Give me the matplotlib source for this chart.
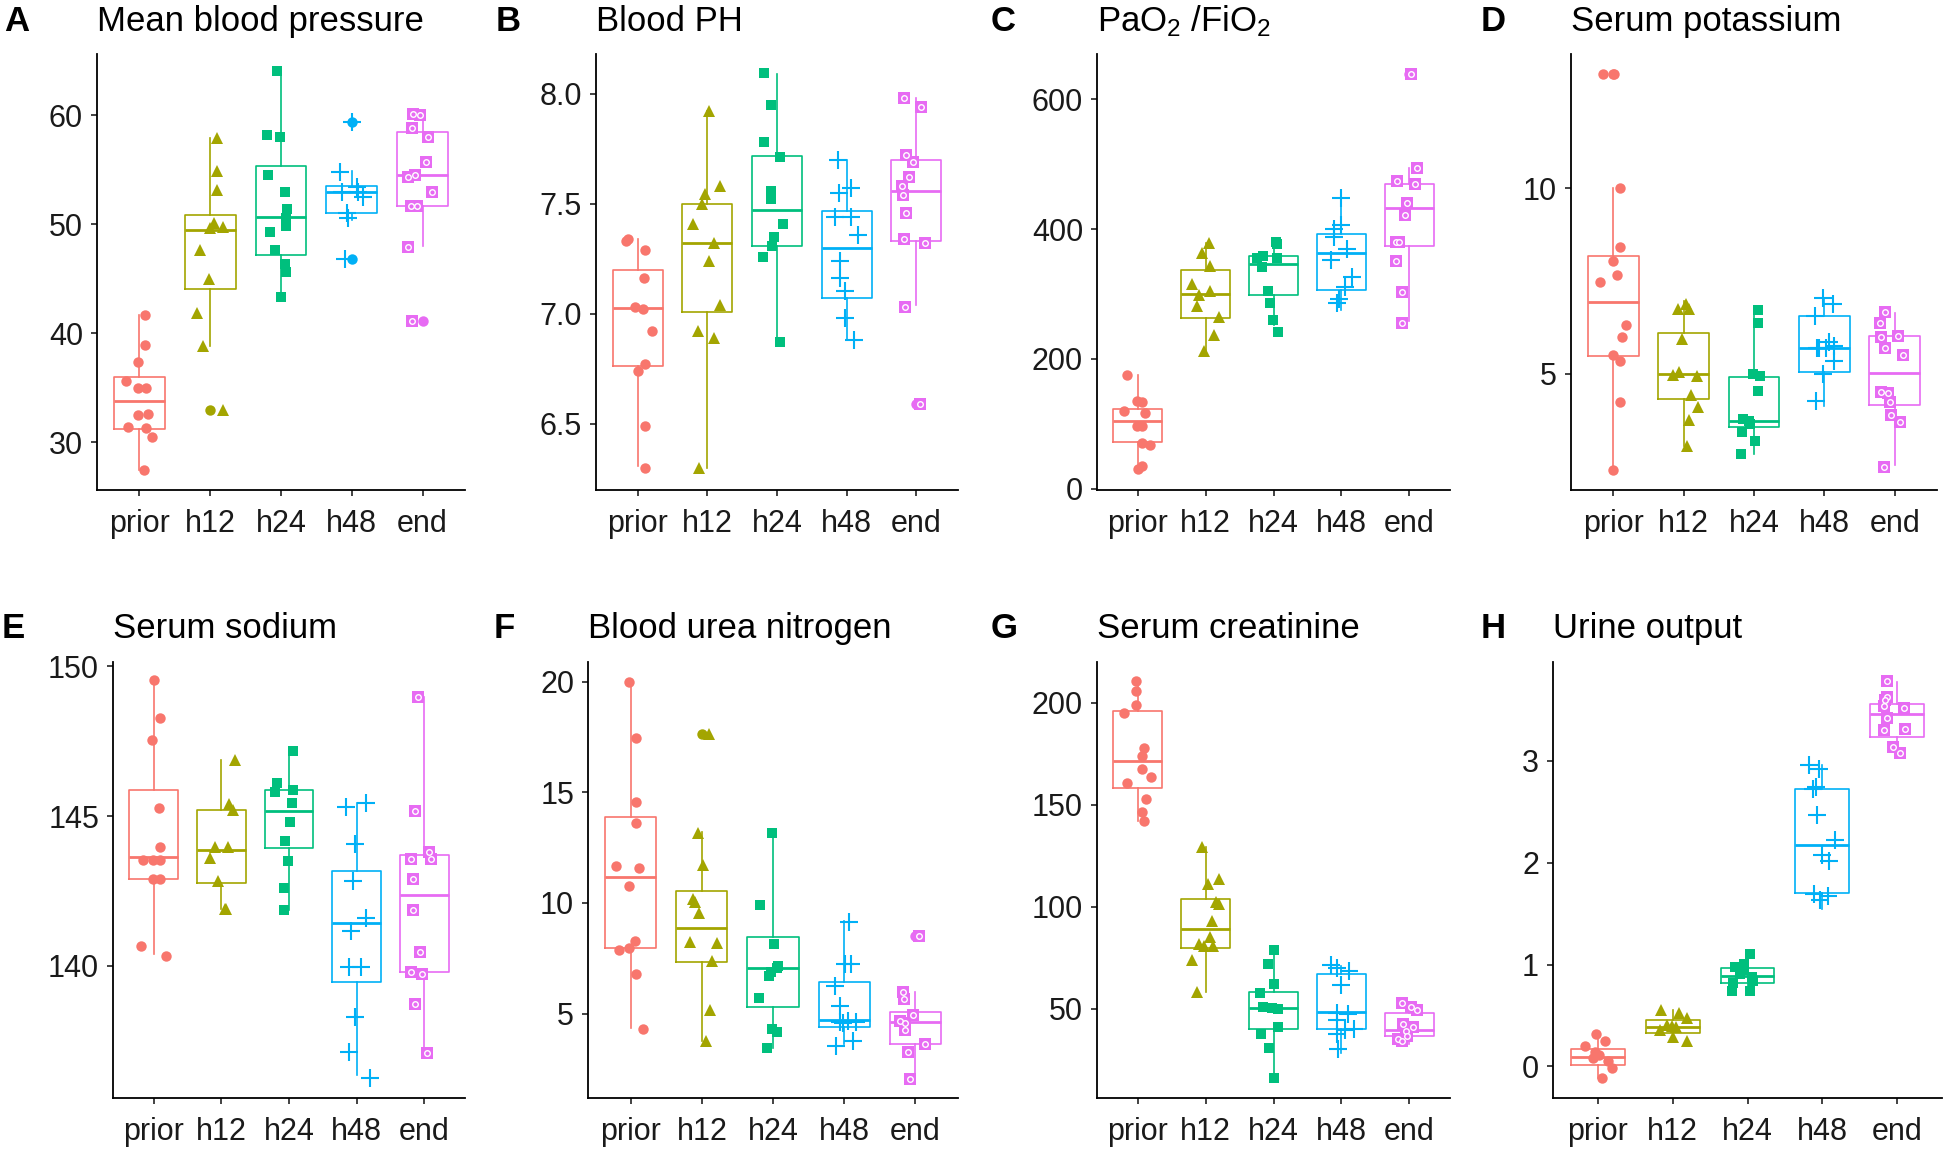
import numpy as np
import matplotlib.pyplot as plt

plt.rcParams['font.family'] = ['Liberation Sans', 'DejaVu Sans']
plt.rcParams['mathtext.fontset'] = 'custom'
plt.rcParams['mathtext.rm'] = 'Liberation Sans'
plt.rcParams['mathtext.it'] = 'Liberation Sans'

groups = ['prior', 'h12', 'h24', 'h48', 'end']
colors = ['#F8766D', '#A3A500', '#00BF7D', '#00B0F6', '#E76BF3']

# A - mean blood pressure
a_y = [[41.7, 38.9, 37.3, 35.6, 35.0, 35.0, 32.5, 32.6, 31.4, 31.3, 30.5, 27.4],
       [57.9, 54.9, 53.1, 50.1, 49.6, 49.7, 47.6, 45.0, 41.8, 38.8, 32.9],
       [64.0, 58.2, 58.0, 54.5, 52.9, 51.4, 50.6, 49.8, 49.3, 47.6, 46.3, 45.6, 43.3],
       [59.4, 54.8, 53.4, 52.9, 52.5, 52.9, 51.0, 50.6, 46.8],
       [60.1, 60.0, 58.8, 58.0, 55.7, 54.3, 54.5, 52.9, 51.7, 51.7, 47.9, 41.1]]
a_dx = [[0.08, 0.08, -0.02, -0.19, -0.02, 0.09, -0.02, 0.12, -0.16, 0.09, 0.18, 0.06],
        [0.1, 0.1, 0.1, 0.05, 0.0, 0.18, -0.14, -0.02, -0.18, -0.1, 0.18],
        [-0.05, -0.2, -0.01, -0.19, 0.05, 0.09, 0.07, 0.07, -0.16, -0.08, 0.05, 0.07, 0.0],
        [0.0, -0.16, 0.07, 0.09, 0.16, -0.14, -0.07, -0.05, -0.09],
        [-0.13, -0.04, -0.15, 0.08, 0.05, -0.2, -0.1, 0.13, -0.17, -0.08, -0.2, -0.15]]
a_box = [(27.4, 31.2, 33.8, 36.0, 41.7), (38.8, 44.05, 49.45, 50.8, 57.9),
         (43.3, 47.2, 50.65, 55.3, 64.0), (50.4, 51.0, 52.95, 53.5, 54.9),
         (48.0, 51.7, 54.5, 58.4, 60.1)]
a_out = [[], [32.9], [], [59.4, 46.8], [41.1]]

# B - blood pH
b_y = [[7.33, 7.34, 7.29, 7.165, 7.03, 7.02, 6.92, 6.77, 6.74, 6.49, 6.30],
       [7.92, 7.58, 7.545, 7.50, 7.41, 7.32, 7.24, 7.04, 6.92, 6.89, 6.30],
       [8.095, 7.95, 7.78, 7.71, 7.56, 7.52, 7.41, 7.35, 7.31, 7.26, 6.87],
       [7.70, 7.55, 7.57, 7.44, 7.44, 7.36, 7.24, 7.165, 7.105, 6.98, 6.88],
       [7.98, 7.94, 7.72, 7.69, 7.62, 7.58, 7.54, 7.46, 7.34, 7.32, 7.03, 6.59]]
b_dx = [[-0.17, -0.14, 0.1, 0.09, -0.04, 0.07, 0.2, 0.1, 0.0, 0.1, 0.1],
        [0.02, 0.18, -0.03, -0.08, -0.21, 0.1, 0.02, 0.18, -0.13, 0.1, -0.12],
        [-0.19, -0.08, -0.18, 0.05, -0.09, -0.09, 0.08, -0.04, -0.07, -0.2, 0.05],
        [-0.13, -0.11, 0.06, -0.16, 0.06, 0.16, -0.1, -0.1, -0.03, -0.02, 0.11],
        [-0.17, 0.07, -0.14, -0.04, -0.1, -0.2, -0.19, -0.14, -0.17, 0.12, -0.16, 0.05]]
b_box = [(6.31, 6.765, 7.025, 7.20, 7.34), (6.30, 7.01, 7.32, 7.50, 7.92),
         (6.87, 7.31, 7.47, 7.715, 8.09), (6.88, 7.07, 7.30, 7.465, 7.70),
         (7.04, 7.33, 7.56, 7.70, 7.98)]
b_out = [[], [], [], [], [6.59]]

# C - PaO2/FiO2
c_y = [[175, 135, 133, 120, 116, 97, 97, 70, 68, 31, 35],
       [378, 363, 344, 316, 305, 298, 282, 265, 237, 212],
       [380, 377, 358, 355, 341, 355, 304, 286, 260, 242],
       [448, 406, 401, 388, 370, 353, 326, 311, 292, 286],
       [639, 494, 475, 469, 441, 422, 381, 381, 351, 303, 256]]
c_dx = [[-0.16, -0.01, 0.06, -0.2, 0.11, -0.01, 0.07, 0.06, 0.18, 0.0, 0.07],
        [0.05, -0.05, 0.07, -0.2, 0.07, -0.1, -0.12, 0.2, 0.12, -0.02],
        [0.03, 0.05, -0.15, -0.25, -0.17, 0.05, -0.08, -0.05, -0.01, 0.07],
        [0.0, -0.01, -0.11, -0.11, 0.09, -0.16, 0.15, 0.06, -0.03, -0.06],
        [0.03, 0.11, -0.18, 0.08, -0.04, -0.07, -0.2, -0.15, -0.2, -0.1, -0.11]]
c_box = [(30, 72, 104, 123, 175), (212, 263, 300, 337, 378), (252, 298, 347, 359, 381),
         (275, 307, 364, 392, 453), (259, 374, 433, 470, 494)]
c_out = [[], [], [], [], [639]]

# D - serum potassium
d_y = [[13.07, 13.07, 10.0, 8.42, 8.03, 7.65, 7.48, 6.31, 5.99, 5.51, 5.35, 4.24, 2.41],
       [6.87, 6.73, 6.73, 5.94, 5.03, 4.95, 4.93, 4.42, 4.09, 3.75, 3.06],
       [6.71, 6.37, 4.93, 4.98, 4.52, 3.78, 3.73, 3.64, 3.43, 3.19, 2.84],
       [7.04, 6.88, 6.56, 5.70, 5.70, 5.75, 5.34, 5.0, 4.26, 5.68, 5.85],
       [6.66, 6.37, 5.99, 6.02, 5.70, 5.49, 4.50, 4.47, 4.24, 3.88, 3.69, 2.49]]
d_dx = [[-0.15, 0.01, 0.1, 0.09, -0.01, 0.06, -0.19, 0.18, 0.13, 0.0, 0.1, 0.1, -0.01],
        [0.04, -0.08, 0.07, -0.02, -0.06, -0.15, 0.19, 0.11, 0.2, 0.08, 0.05],
        [0.05, 0.06, 0.09, -0.01, 0.06, -0.16, -0.07, -0.06, -0.17, 0.02, -0.19],
        [-0.02, 0.12, -0.13, -0.11, 0.03, 0.14, 0.14, -0.02, -0.12, -0.07, 0.07],
        [-0.14, -0.21, -0.2, 0.05, -0.14, 0.12, -0.2, -0.1, -0.07, -0.06, 0.07, -0.15]]
d_box = [(2.41, 5.48, 6.92, 8.17, 10.0), (3.06, 4.31, 4.98, 6.10, 6.95),
         (2.82, 3.57, 3.73, 4.90, 6.8), (4.12, 5.05, 5.70, 6.54, 7.0),
         (2.53, 4.15, 5.01, 6.01, 6.63)]
d_out = [[13.07], [], [], [], []]

# E - serum sodium
e_y = [[149.54, 148.27, 147.55, 145.26, 143.95, 143.54, 143.54, 143.54, 142.9, 142.9, 140.64, 140.32],
       [146.88, 145.4, 145.2, 143.98, 143.98, 143.6, 142.83, 141.9, 141.9],
       [147.18, 146.1, 145.8, 145.87, 145.44, 144.8, 144.17, 143.5, 142.6, 141.86],
       [145.3, 145.44, 144.07, 142.83, 141.6, 141.15, 139.94, 139.94, 138.27, 137.12, 136.23],
       [148.97, 145.16, 143.56, 143.8, 143.56, 142.89, 141.86, 140.46, 139.8, 139.73, 138.72, 137.06]]
e_dx = [[0.0, 0.1, -0.02, 0.08, 0.1, -0.16, -0.01, 0.1, -0.01, 0.1, -0.18, 0.19],
        [0.2, 0.11, 0.17, -0.1, 0.1, -0.17, -0.05, 0.07, 0.05],
        [0.06, -0.17, -0.2, 0.06, 0.05, 0.02, -0.06, -0.01, -0.07, -0.07],
        [-0.16, 0.14, -0.03, -0.06, 0.14, -0.08, -0.11, 0.06, -0.03, -0.11, 0.19],
        [-0.1, -0.14, -0.2, 0.07, 0.1, -0.17, -0.17, -0.07, -0.2, -0.04, -0.14, 0.04]]
e_box = [(140.4, 142.89, 143.64, 145.87, 149.54), (141.9, 142.77, 143.86, 145.2, 146.88),
         (141.86, 143.92, 145.18, 145.87, 147.18), (136.33, 139.45, 141.43, 143.16, 145.44),
         (137.06, 139.79, 142.37, 143.68, 148.97)]
e_out = [[], [], [], [], []]

# F - blood urea nitrogen
f_y = [[20.0, 17.46, 14.59, 13.64, 11.67, 11.59, 10.79, 8.28, 7.98, 7.87, 6.8, 4.3],
       [17.66, 13.15, 11.72, 10.2, 10.03, 9.54, 8.23, 8.2, 7.38, 5.16, 3.77],
       [13.15, 9.92, 8.15, 7.08, 6.89, 7.13, 6.72, 5.69, 4.31, 4.15, 3.44],
       [9.15, 7.26, 7.26, 6.23, 5.33, 4.6, 4.57, 4.63, 4.66, 3.52, 3.74],
       [8.52, 5.98, 5.66, 4.92, 4.67, 4.59, 4.26, 3.64, 3.28, 2.05]]
f_dx = [[-0.02, 0.08, 0.08, 0.08, -0.2, 0.12, -0.02, 0.06, -0.02, -0.16, 0.08, 0.17],
        [0.1, -0.06, 0.01, -0.13, -0.1, -0.04, -0.16, 0.21, 0.14, 0.11, 0.06],
        [-0.02, -0.18, 0.02, 0.05, -0.03, 0.07, -0.06, -0.2, -0.02, 0.06, -0.08],
        [0.07, 0.01, 0.1, -0.13, -0.06, -0.06, -0.01, 0.16, 0.05, -0.11, 0.13],
        [0.05, -0.17, -0.16, -0.03, -0.22, -0.15, -0.14, 0.13, -0.1, -0.07]]
f_box = [(4.35, 7.95, 11.18, 13.9, 20.0), (3.77, 7.33, 8.89, 10.52, 13.2),
         (3.44, 5.28, 7.05, 8.44, 13.1), (3.6, 4.39, 4.7, 6.44, 9.18),
         (2.05, 3.61, 4.64, 5.08, 5.98)]
f_out = [[], [17.66], [], [], [8.52]]

# G - serum creatinine
g_y = [[210.7, 205.9, 198.8, 194.8, 177.8, 173.9, 167.7, 163.6, 160.5, 152.9, 146.7, 142.2],
       [129.4, 113.5, 111.1, 102.4, 101.4, 93.0, 85.0, 82.0, 81.0, 80.6, 73.8, 58.4],
       [78.8, 72.2, 62.3, 57.8, 50.7, 50.4, 50.0, 37.9, 40.9, 30.8, 16.2],
       [71.3, 69.9, 68.5, 61.9, 48.2, 47.7, 44.5, 37.9, 39.7, 40.2, 30.5],
       [53.0, 50.7, 49.5, 42.4, 41.1, 39.2, 35.3, 34.0, 36.5]]
g_dx = [[-0.02, -0.02, -0.02, -0.2, 0.09, 0.07, 0.06, 0.19, -0.16, 0.12, 0.07, 0.09],
        [-0.06, 0.2, 0.03, 0.15, 0.2, 0.09, 0.06, -0.1, -0.02, 0.11, -0.2, -0.12],
        [0.01, -0.08, 0.01, -0.2, -0.16, -0.02, 0.06, -0.18, 0.06, -0.06, 0.0],
        [-0.15, -0.06, 0.11, -0.01, -0.06, 0.1, -0.07, -0.06, 0.05, 0.19, -0.05],
        [-0.11, 0.02, 0.11, -0.09, 0.06, -0.05, -0.16, -0.11, -0.03]]
g_box = [(142.2, 158.4, 171.7, 196.1, 210.7), (58.4, 79.7, 89.1, 103.7, 129.4),
         (16.2, 40.2, 50.4, 58.4, 78.8), (28.2, 40.2, 48.6, 67.3, 70.8),
         (32.9, 36.5, 39.7, 48.0, 53.0)]
g_out = [[], [], [], [], []]

# H - urine output
h_y = [[0.32, 0.20, 0.25, 0.14, 0.11, 0.05, -0.02, -0.11, 0.08],
       [0.55, 0.52, 0.48, 0.41, 0.385, 0.356, 0.29, 0.25, 0.40],
       [1.10, 1.01, 0.98, 0.91, 0.88, 0.82, 0.84, 0.74, 0.74, 0.95],
       [2.96, 2.92, 2.74, 2.72, 2.47, 2.22, 2.02, 2.08, 1.69, 1.67, 1.63],
       [3.78, 3.63, 3.54, 3.52, 3.42, 3.30, 3.31, 3.14, 3.08, 3.60]]
h_dx = [[-0.03, -0.17, 0.1, -0.04, 0.02, 0.13, 0.19, 0.06, -0.07],
        [-0.15, 0.09, 0.19, -0.08, 0.05, -0.17, 0.01, 0.19, -0.01],
        [0.04, -0.05, -0.17, -0.1, 0.06, -0.19, 0.08, -0.21, 0.04, -0.05],
        [-0.18, -0.04, -0.09, -0.13, -0.07, 0.17, 0.09, -0.01, -0.11, 0.07, -0.03],
        [-0.14, -0.14, -0.18, 0.09, -0.14, -0.18, 0.11, -0.05, 0.04, -0.16]]
h_box = [(-0.11, 0.018, 0.09, 0.17, 0.32), (0.25, 0.33, 0.385, 0.456, 0.55),
         (0.74, 0.82, 0.89, 0.97, 1.10), (1.55, 1.70, 2.17, 2.72, 2.96),
         (3.10, 3.23, 3.46, 3.56, 3.77)]
h_out = [[], [], [], [], []]

W, H = 1946, 1149
fig = plt.figure(figsize=(W / 100, H / 100), dpi=100)

# letter, title, data, y ticks, y limits, axes pixel box (left, right, top, bottom), letter x
panels = [
    ('A', 'Mean blood pressure', a_y, a_dx, a_box, a_out, [30, 40, 50, 60], (25.6, 65.6), (97, 465, 54, 490), 4),
    ('B', 'Blood PH', b_y, b_dx, b_box, b_out, [6.5, 7.0, 7.5, 8.0], (6.20, 8.18), (596, 958, 54, 490), 496),
    ('C', 'PaO$_2$ /FiO$_2$', c_y, c_dx, c_box, c_out, [0, 200, 400, 600], (-2, 670), (1097, 1450, 54, 490), 991),
    ('D', 'Serum potassium', d_y, d_dx, d_box, d_out, [5, 10], (1.86, 13.62), (1571, 1937, 54, 490), 1481),
    ('E', 'Serum sodium', e_y, e_dx, e_box, e_out, [140, 145, 150], (135.57, 150.15), (113, 465, 662, 1098), 2),
    ('F', 'Blood urea nitrogen', f_y, f_dx, f_box, f_out, [5, 10, 15, 20], (1.18, 20.9), (588, 958, 662, 1098), 494),
    ('G', 'Serum creatinine', g_y, g_dx, g_box, g_out, [50, 100, 150, 200], (6.3, 220), (1097, 1450, 662, 1098), 991),
    ('H', 'Urine output', h_y, h_dx, h_box, h_out, [0, 1, 2, 3], (-0.31, 3.97), (1553, 1942, 662, 1098), 1481),
]

for letter, title, ys, dxs, box, out, yt, ylim, (l, r, t, b), lx in panels:
    ax = fig.add_axes([l / W, 1 - b / H, (r - l) / W, (b - t) / H])
    stats = [dict(whislo=s[0], q1=s[1], med=s[2], q3=s[3], whishi=s[4], fliers=o)
             for s, o in zip(box, out)]
    bp = ax.bxp(stats, positions=range(1, 6), widths=0.72, showcaps=False,
                boxprops=dict(linewidth=1.2), whiskerprops=dict(linewidth=1.2),
                medianprops=dict(linewidth=2.0),
                flierprops=dict(marker='o', markersize=7.5, markeredgewidth=0))
    for i, c in enumerate(colors):
        bp['boxes'][i].set_color(c)
        bp['medians'][i].set_color(c)
        bp['whiskers'][2 * i].set_color(c)
        bp['whiskers'][2 * i + 1].set_color(c)
        bp['fliers'][i].set_markerfacecolor(c)

    for i, (y, dx) in enumerate(zip(ys, dxs)):
        x = i + 1 + np.array(dx)
        c = colors[i]
        if i == 0:
            ax.plot(x, y, 'o', color=c, ms=7.5, mew=0, zorder=3)
        elif i == 1:
            ax.plot(x, y, '^', color=c, ms=9, mew=0, zorder=3)
        elif i == 2:
            ax.plot(x, y, 's', color=c, ms=7.5, mew=0, zorder=3)
        elif i == 3:
            ax.plot(x, y, '+', color=c, ms=13, mew=1.5, zorder=3)
        else:
            ax.plot(x, y, 's', color=c, ms=8, mew=0, zorder=3)
            ax.plot(x, y, 'o', mfc=c, mec='white', ms=4, mew=1.0, zorder=4)

    ax.set_xlim(0.4, 5.6)
    ax.set_ylim(*ylim)
    ax.set_xticks(range(1, 6), groups)
    ax.set_yticks(yt)
    ax.spines[['top', 'right']].set_visible(False)
    for s in ('left', 'bottom'):
        ax.spines[s].set_linewidth(1.3)
    ax.tick_params(labelsize=22, width=1.2, length=4, colors='#222222', labelcolor='#1a1a1a')
    ax.tick_params(axis='x', pad=10)
    ax.tick_params(axis='y', pad=6)

    base = 31 if t < 300 else 638
    fig.text(l / W, 1 - base / H, title, fontsize=25, ha='left', va='baseline')
    fig.text(lx / W, 1 - base / H, letter, fontsize=25, fontweight='bold', ha='left', va='baseline')

fig.savefig('out.png', dpi=100)
